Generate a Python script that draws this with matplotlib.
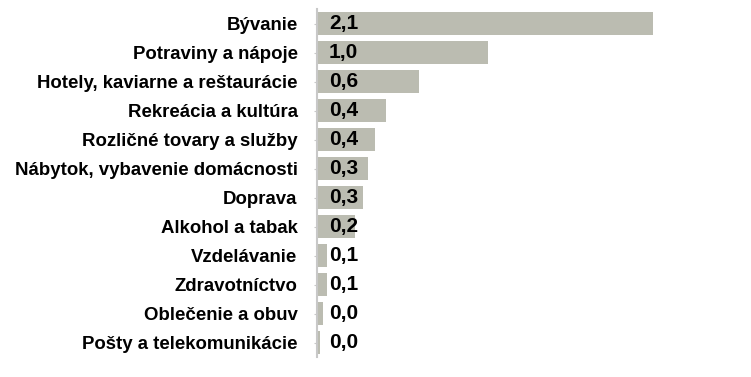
import matplotlib.pyplot as plt

plt.rcParams['font.family'] = ['Liberation Sans', 'DejaVu Sans']

# kategórie a hodnoty (zhora nadol)
kategorie = ["Bývanie", "Potraviny a nápoje", "Hotely, kaviarne a reštaurácie",
             "Rekreácia a kultúra", "Rozličné tovary a služby",
             "Nábytok, vybavenie domácnosti", "Doprava", "Alkohol a tabak",
             "Vzdelávanie", "Zdravotníctvo", "Oblečenie a obuv",
             "Pošty a telekomunikácie"]
hodnoty = [2.1, 1.07, 0.64, 0.43, 0.36, 0.32, 0.29, 0.24, 0.06, 0.06, 0.04, 0.02]
popisky = ["2,1", "1,0", "0,6", "0,4", "0,4", "0,3", "0,3", "0,2", "0,1", "0,1", "0,0", "0,0"]

W, H = 751, 377
fig = plt.figure(figsize=(W / 100, H / 100), dpi=100)
ax = fig.add_axes([317 / W, 1 - 357 / H, (W - 317) / W, 348 / H])

y = list(range(len(kategorie)))
ax.barh(y, hodnoty, height=0.79, color="#BBBCB1", zorder=2)
ax.set_ylim(len(kategorie) - 0.5, -0.5)
ax.set_xlim(0, (W - 317) / 160)

for yi, txt in zip(y, popisky):
    ax.text(0.075, yi, txt, ha="left", va="center", fontsize=15,
            fontweight="bold", color="black", zorder=3)

ax.set_yticks(y)
ax.set_yticklabels(kategorie, fontsize=13.4, fontweight="bold")
ax.tick_params(axis="y", length=2, color="#C8C8C8", pad=12)
ax.set_xticks([])
for s in ["top", "right", "bottom"]:
    ax.spines[s].set_visible(False)
ax.spines["left"].set_color("#C8C8C8")
ax.spines["left"].set_linewidth(1.5)

fig.savefig("out.png", dpi=100)
